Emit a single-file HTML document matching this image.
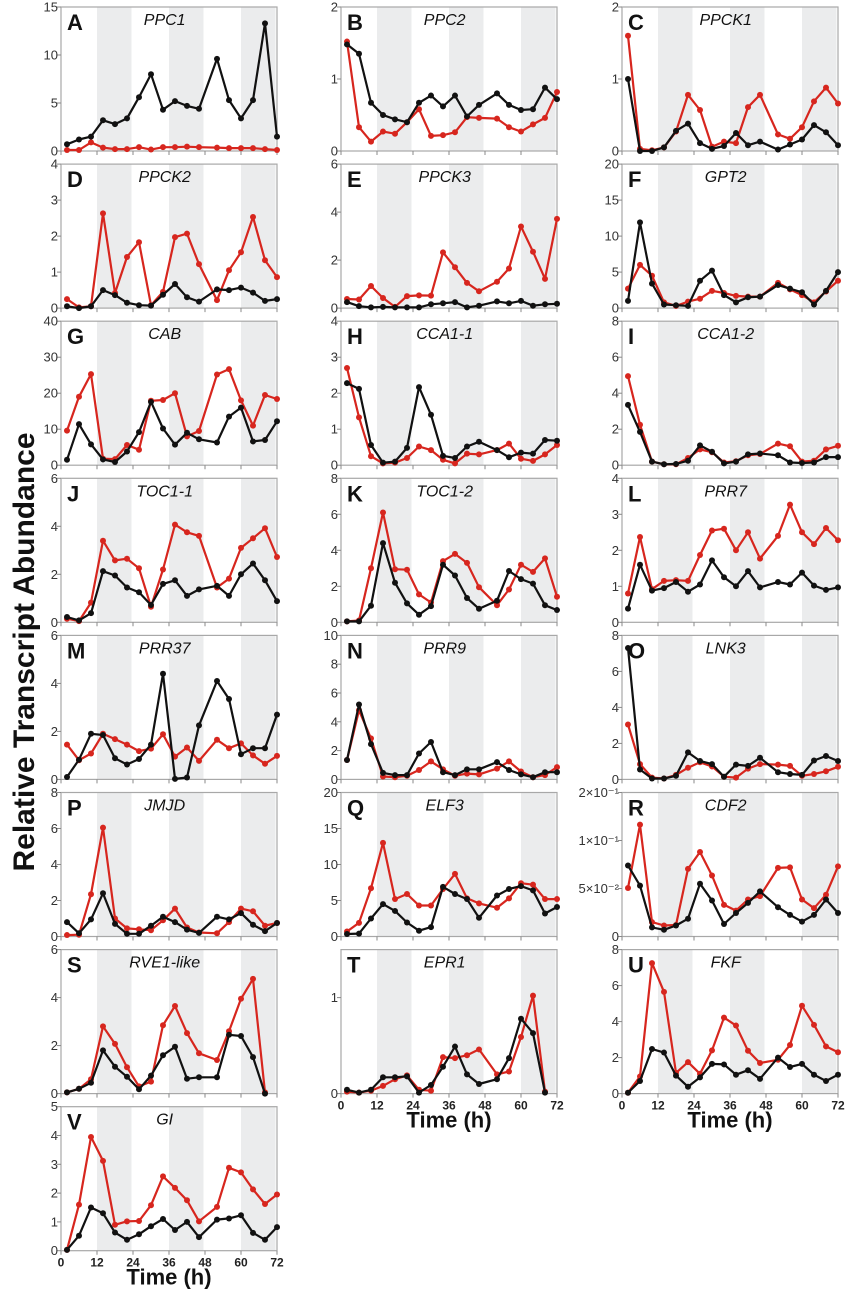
<!DOCTYPE html>
<html><head><meta charset="utf-8">
<style>
html,body{margin:0;padding:0;background:#fff;}
svg{display:block;font-family:"Liberation Sans",Arial,sans-serif;}
</style></head>
<body>
<svg id="fig" width="846" height="1292" viewBox="0 0 846 1292" xmlns="http://www.w3.org/2000/svg">
<text transform="translate(34,652) rotate(-90)" text-anchor="middle" font-size="30" font-weight="bold" fill="#111">Relative Transcript Abundance</text>
</svg>
<script>
const times = [2,6,10,14,18,22,26,30,34,38,42,46,52,56,60,64,68,72];
const A_black=[0.7,1.2,1.5,3.2,2.8,3.4,5.6,8.0,4.3,5.2,4.7,4.4,9.6,5.3,3.4,5.3,13.3,1.5];
const A_red=[0.1,0.1,0.9,0.35,0.2,0.2,0.4,0.15,0.4,0.4,0.45,0.4,0.35,0.3,0.3,0.3,0.2,0.1];
const B_black=[1.48,1.35,0.67,0.5,0.44,0.4,0.67,0.77,0.62,0.77,0.48,0.64,0.8,0.64,0.57,0.58,0.88,0.72];
const B_red=[1.52,0.33,0.13,0.27,0.24,0.4,0.58,0.21,0.22,0.26,0.47,0.46,0.45,0.33,0.27,0.37,0.46,0.82];
const C_black=[1.0,0.0,0.0,0.05,0.28,0.38,0.11,0.03,0.07,0.25,0.08,0.13,0.02,0.09,0.16,0.36,0.26,0.08];
const C_red=[1.6,0.03,0.01,0.05,0.27,0.78,0.57,0.06,0.13,0.11,0.61,0.78,0.23,0.17,0.33,0.69,0.88,0.66];
const D_black=[0.05,0,0.05,0.5,0.36,0.15,0.08,0.07,0.37,0.67,0.3,0.18,0.52,0.5,0.57,0.43,0.2,0.25];
const D_red=[0.25,0.02,0.05,2.63,0.42,1.42,1.83,0.08,0.45,1.97,2.07,1.22,0.22,1.05,1.55,2.53,1.33,0.86];
const E_black=[0.25,0.08,0.03,0.05,0.03,0.03,0.03,0.16,0.2,0.25,0.03,0.1,0.28,0.2,0.3,0.1,0.16,0.18];
const E_red=[0.38,0.36,0.92,0.42,0.05,0.5,0.53,0.52,2.32,1.7,1.05,0.7,1.1,1.65,3.4,2.35,1.22,3.72];
const F_black=[1.0,11.9,3.4,0.5,0.4,0.3,3.8,5.2,1.8,0.8,1.5,1.6,3.2,2.7,2.2,0.5,2.4,5.0];
const F_red=[2.7,6.0,4.5,0.8,0.3,0.9,1.3,2.4,2.1,1.7,1.6,1.6,3.5,2.6,1.8,0.8,2.3,3.8];
const G_black=[1.5,11.4,5.8,1.6,0.9,3.8,9.2,17.6,10.2,5.7,9,7.2,6.3,13.5,16,6.6,7,12.2];
const G_red=[9.6,19,25.3,1.8,1.7,5.6,4.3,17.9,18.1,20,8,9.5,25.2,26.7,18,11,19.5,18.4];
const H_black=[2.28,2.12,0.56,0.07,0.1,0.48,2.17,1.4,0.26,0.2,0.52,0.65,0.42,0.22,0.35,0.32,0.7,0.68];
const H_red=[2.7,1.33,0.25,0.05,0.07,0.2,0.52,0.42,0.15,0.05,0.32,0.3,0.42,0.6,0.18,0.12,0.3,0.56];
const I_black=[3.35,1.85,0.2,0.05,0.07,0.25,1.1,0.75,0.1,0.2,0.6,0.65,0.55,0.15,0.12,0.15,0.45,0.45];
const I_red=[4.95,2.25,0.2,0.05,0.05,0.4,0.88,0.72,0.15,0.22,0.55,0.62,1.2,1.05,0.2,0.25,0.88,1.08];
const J_black=[0.22,0.08,0.38,2.13,1.95,1.45,1.25,0.72,1.6,1.75,1.1,1.37,1.52,1.1,2.0,2.45,1.75,0.88];
const J_red=[0.15,0.05,0.82,3.4,2.58,2.65,2.25,0.65,2.2,4.07,3.75,3.6,1.45,1.82,3.1,3.5,3.92,2.72];
const K_black=[0.05,0.05,0.92,4.4,2.2,1.05,0.42,0.9,3.2,2.6,1.35,0.75,1.2,2.85,2.4,2.15,0.95,0.68];
const K_red=[0.05,0.1,3.0,6.1,2.95,2.92,1.55,1.1,3.4,3.8,3.3,1.95,0.95,1.82,3.2,2.8,3.55,1.42];
const L_black=[0.38,1.6,0.88,0.95,1.12,0.85,1.05,1.72,1.25,1.0,1.42,0.97,1.12,1.05,1.38,1.02,0.9,0.97];
const L_red=[0.8,2.37,0.92,1.15,1.17,1.15,1.87,2.55,2.6,2.0,2.5,1.77,2.4,3.27,2.5,2.17,2.62,2.28];
const M_black=[0.1,0.82,1.9,1.85,0.88,0.62,0.85,1.45,4.4,0.02,0.08,2.25,4.1,3.35,1.05,1.3,1.3,2.7];
const M_red=[1.45,0.8,1.08,1.9,1.68,1.45,1.18,1.28,1.88,0.95,1.33,0.77,1.65,1.3,1.5,1.0,0.65,0.98];
const N_black=[1.35,5.2,2.45,0.45,0.3,0.3,1.8,2.6,0.5,0.3,0.7,0.7,1.2,0.65,0.35,0.15,0.5,0.5];
const N_red=[1.35,4.8,2.85,0.2,0.15,0.25,0.65,1.25,0.7,0.25,0.4,0.35,0.75,1.25,0.55,0.15,0.3,0.85];
const O_black=[7.3,0.55,0.05,0.05,0.2,1.5,1.02,0.85,0.15,0.82,0.75,1.2,0.4,0.3,0.25,1.05,1.3,1.02];
const O_red=[3.05,0.85,0.1,0.05,0.25,0.65,0.95,0.72,0.15,0.1,0.6,0.85,0.82,0.75,0.2,0.3,0.45,0.7];
const P_black=[0.8,0.18,0.95,2.4,0.7,0.15,0.15,0.6,1.1,0.8,0.38,0.2,1.1,0.95,1.3,0.65,0.3,0.75];
const P_red=[0.08,0.1,2.35,6.05,1.0,0.45,0.4,0.35,0.9,1.55,0.5,0.22,0.18,0.8,1.55,1.4,0.6,0.75];
const Q_black=[0.35,0.4,2.5,4.5,3.55,1.95,0.8,1.3,6.9,5.9,5.2,2.6,5.7,6.6,7.0,6.4,3.2,4.1];
const Q_red=[0.7,1.9,6.7,13.0,5.2,5.9,4.3,4.3,6.6,8.7,5.3,4.6,4.0,5.3,7.4,7.2,5.2,5.2];
const R_black=[1.48,1.06,0.19,0.14,0.23,0.37,1.1,0.75,0.26,0.49,0.7,0.94,0.61,0.45,0.31,0.45,0.77,0.49];
const R_red=[1.01,2.33,0.3,0.23,0.24,1.41,1.76,1.27,0.66,0.54,0.77,0.84,1.43,1.44,0.77,0.59,0.87,1.46];
const S_black=[0.05,0.2,0.45,1.8,1.12,0.7,0.18,0.75,1.6,1.95,0.62,0.68,0.68,2.45,2.4,1.52,0,null];
const S_red=[0.05,0.2,0.6,2.8,2.07,1.1,0.3,0.5,2.85,3.65,2.52,1.68,1.4,2.6,3.95,4.78,0.05,null];
const T_black=[0.04,0.01,0.04,0.17,0.17,0.18,0.01,0.09,0.28,0.49,0.2,0.1,0.15,0.37,0.78,0.63,0.01,null];
const T_red=[0.02,0.01,0.03,0.08,0.15,0.19,0.04,0.03,0.38,0.37,0.4,0.46,0.2,0.23,0.59,1.02,0.02,null];
const U_black=[0.05,0.7,2.48,2.28,1.0,0.38,0.9,1.65,1.62,1.05,1.3,0.82,2.0,1.48,1.65,1.05,0.7,1.05];
const U_red=[0.05,0.95,7.25,5.65,1.15,1.75,1.1,2.4,4.22,3.78,2.38,1.7,1.88,2.7,4.88,3.82,2.62,2.3];
const V_black=[0.03,0.52,1.5,1.3,0.63,0.38,0.57,0.85,1.1,0.72,1.0,0.47,1.08,1.12,1.23,0.62,0.38,0.82];
const V_red=[0.03,1.6,3.95,3.12,0.9,1.02,1.03,1.58,2.58,2.18,1.75,1.02,1.52,2.88,2.72,2.13,1.62,1.95];
const xTickLabels=["0","12","24","36","48","60","72"];
const R_tickLabels=["0","5×10⁻²","1×10⁻¹","2×10⁻¹"];

const panels=[
 {id:"A",gene:"PPC1",col:0,row:0,max:15,step:5,k:A_black,r:A_red},
 {id:"B",gene:"PPC2",col:1,row:0,max:2,step:1,k:B_black,r:B_red},
 {id:"C",gene:"PPCK1",col:2,row:0,max:2,step:1,k:C_black,r:C_red},
 {id:"D",gene:"PPCK2",col:0,row:1,max:4,step:1,k:D_black,r:D_red},
 {id:"E",gene:"PPCK3",col:1,row:1,max:6,step:2,k:E_black,r:E_red},
 {id:"F",gene:"GPT2",col:2,row:1,max:20,step:5,k:F_black,r:F_red},
 {id:"G",gene:"CAB",col:0,row:2,max:40,step:10,k:G_black,r:G_red},
 {id:"H",gene:"CCA1-1",col:1,row:2,max:4,step:1,k:H_black,r:H_red},
 {id:"I",gene:"CCA1-2",col:2,row:2,max:8,step:2,k:I_black,r:I_red},
 {id:"J",gene:"TOC1-1",col:0,row:3,max:6,step:2,k:J_black,r:J_red},
 {id:"K",gene:"TOC1-2",col:1,row:3,max:8,step:2,k:K_black,r:K_red},
 {id:"L",gene:"PRR7",col:2,row:3,max:4,step:1,k:L_black,r:L_red},
 {id:"M",gene:"PRR37",col:0,row:4,max:6,step:2,k:M_black,r:M_red},
 {id:"N",gene:"PRR9",col:1,row:4,max:10,step:2,k:N_black,r:N_red},
 {id:"O",gene:"LNK3",col:2,row:4,max:8,step:2,k:O_black,r:O_red},
 {id:"P",gene:"JMJD",col:0,row:5,max:8,step:2,k:P_black,r:P_red},
 {id:"Q",gene:"ELF3",col:1,row:5,max:20,step:5,k:Q_black,r:Q_red},
 {id:"R",gene:"CDF2",col:2,row:5,max:3,step:1,k:R_black,r:R_red,labels:R_tickLabels},
 {id:"S",gene:"RVE1-like",col:0,row:6,max:6,step:2,k:S_black,r:S_red},
 {id:"T",gene:"EPR1",col:1,row:6,max:1.5,step:1,k:T_black,r:T_red},
 {id:"U",gene:"FKF",col:2,row:6,max:8,step:2,k:U_black,r:U_red},
 {id:"V",gene:"GI",col:0,row:7,max:5,step:1,k:V_black,r:V_red}
];
const NS="http://www.w3.org/2000/svg";
const svg=document.getElementById("fig");
const colX=[61,341,622], W=216, H=144;
function mk(tag,attrs,parent){const e=document.createElementNS(NS,tag);for(const a in attrs)e.setAttribute(a,attrs[a]);parent.appendChild(e);return e;}
panels.forEach(p=>{
 const x0=colX[p.col], y0=7+p.row*157.1;
 const xs=t=>x0+t/72*W;
 const ys=v=>y0+H-v/p.max*H;
 const g=mk("g",{},svg);
 
 
 [[12,23.5],[36,47.5],[60,71.5]].forEach(b=>{
  const r=mk("rect",{x:xs(b[0]),y:y0,width:xs(b[1])-xs(b[0]),height:H,fill:"#ebeced"},g);
  
  
 });
 const fr=mk("rect",{x:x0,y:y0,width:W,height:H,fill:"none",stroke:"#a8a8a8","stroke-width":1.2},g);
 
 
 for(let v=0;v<=p.max+1e-9;v+=p.step){
  const y=ys(v);
  mk("line",{x1:x0-4,x2:x0,y1:y,y2:y,stroke:"#888","stroke-width":1},g);
  const lab=p.labels?p.labels[Math.round(v)]:String(v);
  const t=mk("text",{x:x0-3,y:y+4.5,"text-anchor":"end","font-size":13,fill:"#333"},g);
  t.textContent=lab;
  
  
 }
 const bottom=(p.col===0&&p.row===7)||(p.col>0&&p.row===6);
 xTickLabels.forEach((l,i)=>{
  const x=xs(i*12);
  mk("line",{x1:x,x2:x,y1:y0+H,y2:y0+H+4,stroke:"#888","stroke-width":1},g);
  if(bottom){
   const t=mk("text",{x:x,y:y0+H+16,"text-anchor":"middle","font-size":12,"font-weight":"bold",fill:"#222"},g);
   t.textContent=l;
   
   
  }
 });
 if(bottom){
  const t=mk("text",{x:x0+W/2,y:y0+H+34,"text-anchor":"middle","font-size":22,"font-weight":"bold",fill:"#111"},g);
  t.textContent="Time (h)";
  
  
 }
 const L=mk("text",{x:x0+6,y:y0+23,"font-size":22,"font-weight":"bold",fill:"#111"},g);
 L.textContent=p.id;
 
 
 const G=mk("text",{x:x0+W*0.48,y:y0+18,"text-anchor":"middle","font-size":16,"font-style":"italic",fill:"#111"},g);
 G.textContent=p.gene;
 
 
 [[p.r,"#d7261e","red-series"],[p.k,"#111","black-series"]].forEach(s=>{
  const vals=s[0];
  let d="";
  vals.forEach((v,i)=>{if(v===null)return;d+=(d?"L":"M")+xs(times[i]).toFixed(1)+","+ys(v).toFixed(1);});
  const path=mk("path",{d:d,fill:"none",stroke:s[1],"stroke-width":2.2,"stroke-linejoin":"round"},g);
  
  
  vals.forEach((v,i)=>{
   if(v===null)return;
   const c=mk("circle",{cx:xs(times[i]),cy:ys(v),r:3,fill:s[1]},g);
   
   
  });
 });
});
</script>
</body></html>
